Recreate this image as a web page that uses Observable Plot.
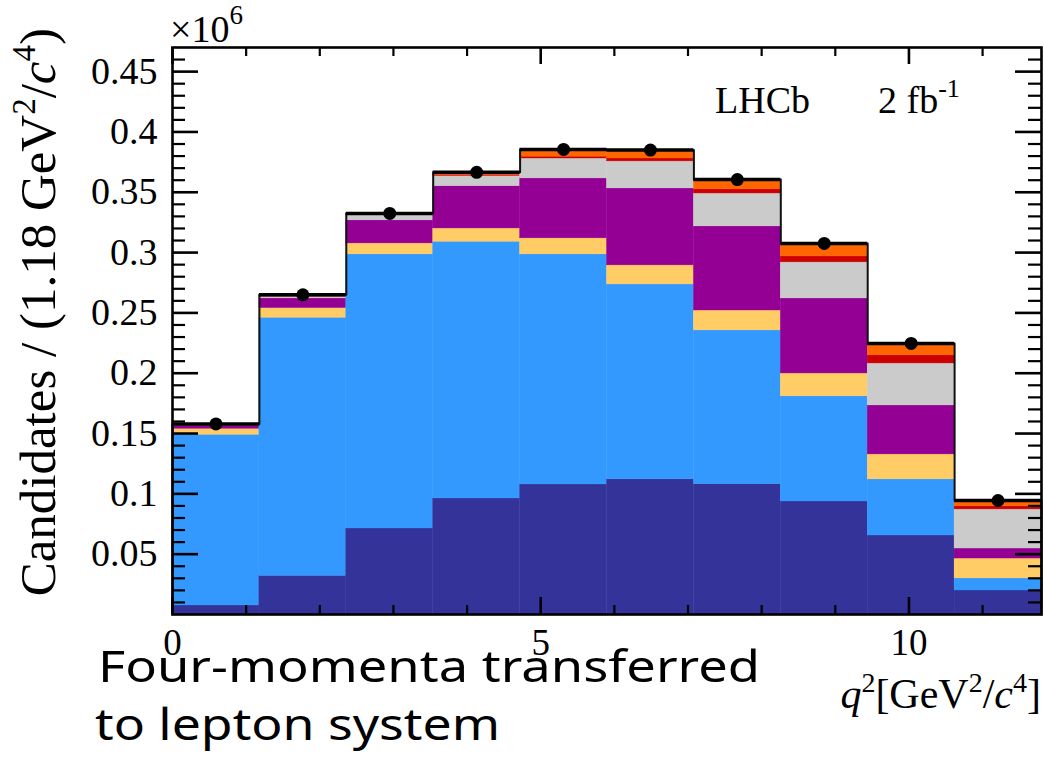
<!DOCTYPE html>
<html>
<head>
<meta charset="utf-8">
<script src="https://cdn.jsdelivr.net/npm/d3@7"></script>
<script src="https://cdn.jsdelivr.net/npm/@observablehq/plot@0.6"></script>
<style>
  body { margin: 0; background: #fff; }
  #chart svg { display: block; }
</style>
</head>
<body>
<div id="chart"></div>
<script>
// q^2 binning: 10 bins of 1.18 GeV^2/c^4
const binEdges = [0, 1.18, 2.36, 3.54, 4.72, 5.90, 7.08, 8.26, 9.44, 10.62, 11.80];

// Stacked template yields per bin, in units of 10^6 candidates (bottom to top)
const compNavy   = [0.0075, 0.0320, 0.0713, 0.0962, 0.1078, 0.1120, 0.1080, 0.0937, 0.0655, 0.0199];
const compBlue   = [0.1415, 0.2140, 0.2272, 0.2128, 0.1907, 0.1616, 0.1275, 0.0871, 0.0465, 0.0100];
const compYellow = [0.0050, 0.0080, 0.0091, 0.0110, 0.0133, 0.0158, 0.0165, 0.0190, 0.0207, 0.0165];
const compPurple = [0.0025, 0.0080, 0.0191, 0.0350, 0.0497, 0.0638, 0.0697, 0.0622, 0.0406, 0.0083];
const compGray   = [0.0005, 0.0015, 0.0043, 0.0085, 0.0165, 0.0224, 0.0273, 0.0299, 0.0348, 0.0324];
const compRed    = [0.0003, 0.0005, 0.0005, 0.0010, 0.0015, 0.0024, 0.0034, 0.0049, 0.0067, 0.0025];
const compOrange = [0.0005, 0.0010, 0.0010, 0.0020, 0.0060, 0.0070, 0.0081, 0.0108, 0.0099, 0.0049];

// Data points (×10^6)
const dataValues = [0.158, 0.265, 0.3325, 0.3665, 0.3855, 0.385, 0.3605, 0.3076, 0.2247, 0.0945];

// Axis ticks
const yMajorTicks = [0.05, 0.1, 0.15, 0.2, 0.25, 0.3, 0.35, 0.4, 0.45];
const xMajorTicks = [0, 5, 10];
const xMinorTicks = [1, 2, 3, 4, 6, 7, 8, 9, 11];
const yMinorTicks = d3.range(1, 47).map(i => i / 100).filter(v => Math.round(v * 100) % 5 !== 0);

const components = [
  {values: compNavy,   color: "#333399"},
  {values: compBlue,   color: "#3399ff"},
  {values: compYellow, color: "#ffcc66"},
  {values: compPurple, color: "#930093"},
  {values: compGray,   color: "#cbcbcb"},
  {values: compRed,    color: "#cc0000"},
  {values: compOrange, color: "#ff6600"}
];

// Build stacked rectangles
const rects = [];
const totals = [];
for (let i = 0; i < binEdges.length - 1; i++) {
  let base = 0;
  for (const c of components) {
    rects.push({x1: binEdges[i], x2: binEdges[i + 1], y1: base, y2: base + c.values[i], color: c.color});
    base += c.values[i];
  }
  totals.push(base);
}

// Outline of the stacked total as a step path
const outline = [{x: 0, y: 0}];
totals.forEach((t, i) => {
  outline.push({x: binEdges[i], y: t});
  outline.push({x: binEdges[i + 1], y: t});
});
outline.push({x: binEdges[binEdges.length - 1], y: 0});

const points = dataValues.map((v, i) => ({
  x1: binEdges[i], x2: binEdges[i + 1], xc: (binEdges[i] + binEdges[i + 1]) / 2, y: v
}));

const W = 1045, H = 769;
const mL = 172, mR = 4, mT = 47, mB = 155;
const fw = W - mL - mR, fh = H - mT - mB;

const serif = "'Liberation Serif', 'Times New Roman', 'DejaVu Serif', serif";

const plot = Plot.plot({
  width: W,
  height: H,
  marginLeft: mL,
  marginRight: mR,
  marginTop: mT,
  marginBottom: mB,
  x: {domain: [0, 11.8]},
  y: {domain: [0, 0.47]},
  color: {type: "identity"},
  style: {fontFamily: serif, fontSize: "38px", background: "#fff", color: "#000"},
  marks: [
    Plot.rect(rects, {x1: "x1", x2: "x2", y1: "y1", y2: "y2", fill: "color", stroke: "color", strokeWidth: 0.4}),
    Plot.line(outline, {x: "x", y: "y", stroke: "#111", strokeWidth: 2}),
    Plot.ruleY(points, {x1: "x1", x2: "x2", y: "y", stroke: "#000", strokeWidth: 3.5}),
    Plot.dot(points, {x: "xc", y: "y", r: 6.5, fill: "#000"}),
    Plot.frame({stroke: "#000", strokeWidth: 2.6}),
    // inward ticks on all four sides
    Plot.tickY(yMajorTicks, {y: d => d, insetRight: fw - 26, stroke: "#000", strokeWidth: 2.6}),
    Plot.tickY(yMinorTicks, {y: d => d, insetRight: fw - 13, stroke: "#000", strokeWidth: 2.2}),
    Plot.tickY(yMajorTicks, {y: d => d, insetLeft: fw - 26, stroke: "#000", strokeWidth: 2.6}),
    Plot.tickY(yMinorTicks, {y: d => d, insetLeft: fw - 13, stroke: "#000", strokeWidth: 2.2}),
    Plot.tickX(xMajorTicks, {x: d => d, insetTop: fh - 17, stroke: "#000", strokeWidth: 2.6}),
    Plot.tickX(xMinorTicks, {x: d => d, insetTop: fh - 9, stroke: "#000", strokeWidth: 2.2}),
    Plot.tickX(xMajorTicks, {x: d => d, insetBottom: fh - 17, stroke: "#000", strokeWidth: 2.6}),
    Plot.tickX(xMinorTicks, {x: d => d, insetBottom: fh - 9, stroke: "#000", strokeWidth: 2.2}),
    // tick labels
    Plot.axisY({ticks: yMajorTicks, tickSize: 0, tickPadding: 15, tickFormat: d => String(d), label: null, fontSize: 38}),
    Plot.axisX({ticks: xMajorTicks, tickSize: 0, tickPadding: 14, tickFormat: d => String(d), label: null, fontSize: 37})
  ]
});

document.getElementById("chart").appendChild(plot);

// Titles, labels and annotations
const svg = d3.select(plot);
const g = svg.append("g")
  .attr("font-family", serif)
  .attr("text-anchor", "start")
  .attr("fill", "#000");

g.append("text")
  .attr("transform", "translate(55,28) rotate(-90)")
  .attr("text-anchor", "end")
  .attr("font-size", 51)
  .html('Candidates / (1.18 GeV<tspan dy="-20" font-size="33">2</tspan><tspan dy="20">/</tspan><tspan font-style="italic">c</tspan><tspan dy="-20" font-size="33">4</tspan><tspan dy="20">)</tspan>');

g.append("text")
  .attr("x", 170).attr("y", 42)
  .attr("font-size", 38)
  .html('×10<tspan dy="-18" font-size="27">6</tspan>');

g.append("text")
  .attr("x", 715).attr("y", 113)
  .attr("font-size", 38)
  .text("LHCb");

g.append("text")
  .attr("x", 878).attr("y", 113)
  .attr("font-size", 38)
  .html('2 fb<tspan dy="-16" font-size="26">-1</tspan>');

g.append("text")
  .attr("x", 1041).attr("y", 708)
  .attr("text-anchor", "end")
  .attr("font-size", 42)
  .html('<tspan font-style="italic">q</tspan><tspan dy="-16" font-size="28">2</tspan><tspan dy="16">[GeV</tspan><tspan dy="-16" font-size="28">2</tspan><tspan dy="16">/</tspan><tspan font-style="italic">c</tspan><tspan dy="-16" font-size="28">4</tspan><tspan dy="16">]</tspan>');

const hand = "'Segoe Print', 'Comic Sans MS', 'Ink Free', 'Noto Sans', cursive";
g.append("text")
  .attr("x", 98).attr("y", 682)
  .attr("font-family", hand)
  .attr("font-size", 44)
  .attr("textLength", 662)
  .attr("lengthAdjust", "spacingAndGlyphs")
  .text("Four-momenta transferred");

g.append("text")
  .attr("x", 95).attr("y", 740)
  .attr("font-family", hand)
  .attr("font-size", 44)
  .attr("textLength", 405)
  .attr("lengthAdjust", "spacingAndGlyphs")
  .text("to lepton system");
</script>
</body>
</html>
